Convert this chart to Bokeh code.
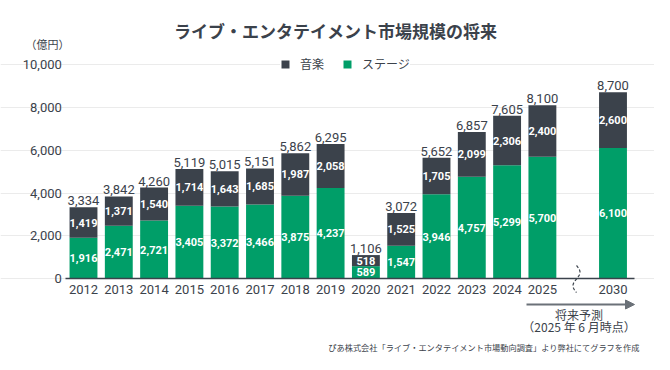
import math
from bokeh.plotting import figure
from bokeh.models import (ColumnDataSource, Range1d, FixedTicker, Legend, LegendItem, Label,
                          Arrow, NormalHead, NumeralTickFormatter, LinearAxis, Grid)
from bokeh.core.properties import value
from bokeh.embed import file_html
from bokeh.resources import INLINE

# ---------------- data ----------------
years = ["2012", "2013", "2014", "2015", "2016", "2017", "2018", "2019",
         "2020", "2021", "2022", "2023", "2024", "2025", "2030"]
stage = [1916, 2471, 2721, 3405, 3372, 3466, 3875, 4237, 589, 1547, 3946, 4757, 5299, 5700, 6100]
music = [1419, 1371, 1540, 1714, 1643, 1685, 1987, 2058, 518, 1525, 1705, 2099, 2306, 2400, 2600]
totals = [3334, 3842, 4260, 5119, 5015, 5151, 5862, 6295, 1106, 3072, 5652, 6857, 7605, 8100, 8700]
y_ticks = [0, 2000, 4000, 6000, 8000, 10000]
series_names = ["音楽", "ステージ"]
title_text = "ライブ・エンタテイメント市場規模の将来"
unit_text = "（億円）"
forecast_lines = ["将来予測", "（2025 年 6 月時点）"]
source_text = "ぴあ株式会社「ライブ・エンタテイメント市場動向調査」より弊社にてグラフを作成"

# axis slots: the years with an empty slot (axis break) before 2030
axis_slots = years[:-1] + [""] + years[-1:]
xpos = [axis_slots.index(y) for y in years]

DARK = "#3b424b"
GREEN = "#009e68"
TEXT = "#3b424b"
ARROW = "#6b7178"
NUM_FONT = "Roboto"
JP_FONT = "Noto Sans CJK JP"

W, H = 654, 354
# pixel layout of the plotting area (frame fills the whole figure)
X0_PX, STEP_PX = 83.0, 35.3          # centre of first slot, slot width
Y0_PX, PX_PER_UNIT = 278.3, 0.02143   # baseline, pixels per value unit


def X(px):
    return (px - X0_PX) / STEP_PX


def Y(py):
    return (Y0_PX - py) / PX_PER_UNIT


src = ColumnDataSource(dict(
    x=xpos, stage=stage, music=music, total=totals,
    stage_mid=[s / 2 for s in stage],
    music_mid=[s + m / 2 for s, m in zip(stage, music)],
    stage_lbl=[f"{v:,}" for v in stage],
    music_lbl=[f"{v:,}" for v in music],
    total_lbl=[f"{v:,}" for v in totals],
))

p = figure(width=W, height=H, x_range=Range1d(X(0), X(W)), y_range=Range1d(Y(H), Y(0)),
           output_backend="svg", toolbar_location=None, title=None,
           x_axis_type=None, y_axis_type=None,
           min_border_left=0, min_border_right=0, min_border_top=0, min_border_bottom=0)
p.outline_line_color = None
p.background_fill_color = "white"
p.border_fill_color = "white"

lo, hi = -0.5, len(axis_slots) - 0.4

# grid
p.add_layout(Grid(dimension=1, ticker=FixedTicker(ticks=y_ticks), bounds=(lo, hi),
                  grid_line_color="#ebebeb", grid_line_width=1))

rs = p.vbar_stack(["stage", "music"], x="x", width=0.79, fill_color=[GREEN, DARK],
                  line_color=None, source=src)

# value labels
for ycol, tcol in (("stage_mid", "stage_lbl"), ("music_mid", "music_lbl")):
    p.text(x="x", y=ycol, text=tcol, source=src, text_color="white",
           text_font=value(NUM_FONT), text_font_style="bold", text_font_size="11px",
           text_align="center", text_baseline="middle")
p.text(x="x", y="total", text="total_lbl", source=src, text_color=TEXT,
       text_font=value(NUM_FONT), text_font_size="13px",
       text_align="center", text_baseline="bottom", y_offset=-2)

# axes (fixed inside the full-size frame)
yaxis = LinearAxis(ticker=FixedTicker(ticks=y_ticks), formatter=NumeralTickFormatter(format="0,0"),
                   fixed_location=lo, axis_line_color=None, major_tick_line_color=None,
                   minor_tick_line_color=None, major_tick_in=0, major_tick_out=0,
                   minor_tick_in=0, minor_tick_out=0, major_label_text_font=NUM_FONT,
                   major_label_text_font_size="13px", major_label_text_color=TEXT,
                   major_label_standoff=4)
p.add_layout(yaxis, "left")

xaxis = LinearAxis(ticker=FixedTicker(ticks=xpos),
                   major_label_overrides={x: y for x, y in zip(xpos, years)},
                   fixed_location=0, bounds=(lo, hi), axis_line_color=TEXT, axis_line_width=1.5,
                   major_tick_line_color=None, minor_tick_line_color=None,
                   major_tick_in=0, major_tick_out=0, minor_tick_in=0, minor_tick_out=0,
                   major_label_text_font=NUM_FONT, major_label_text_font_size="13px",
                   major_label_text_color=TEXT, major_label_standoff=6)
p.add_layout(xaxis, "below")

# legend
legend = Legend(items=[LegendItem(label=series_names[0], renderers=[rs[1]]),
                       LegendItem(label=series_names[1], renderers=[rs[0]])],
                orientation="horizontal", location=(280, 282),
                background_fill_color="white", background_fill_alpha=1.0,
                border_line_color=None, padding=4, spacing=18, margin=0,
                glyph_width=10, glyph_height=10, label_standoff=10, label_height=12,
                label_text_font=JP_FONT, label_text_font_size="12px",
                label_text_color=TEXT)
p.add_layout(legend)

# title and unit
p.add_layout(Label(x=X(335), y=Y(30), text=title_text, text_font=JP_FONT,
                   text_font_style="bold", text_font_size="17px", text_color=TEXT,
                   text_align="center", text_baseline="middle"))
p.add_layout(Label(x=X(25), y=Y(43), text=unit_text, text_font=JP_FONT,
                   text_font_size="11px", text_color=TEXT,
                   text_align="left", text_baseline="middle"))

# forecast arrow + notes
p.add_layout(Arrow(x_start=X(526), y_start=Y(304), x_end=X(634), y_end=Y(304),
                   line_color=ARROW, line_width=2,
                   end=NormalHead(size=9, fill_color=ARROW, line_color=ARROW)))
p.add_layout(Label(x=X(578.5), y=Y(313.5), text=forecast_lines[0], text_font=JP_FONT,
                   text_font_size="12px", text_color=TEXT,
                   text_align="center", text_baseline="middle"))
p.add_layout(Label(x=X(578.5), y=Y(326), text=forecast_lines[1], text_font=JP_FONT,
                   text_font_size="12px", text_color=TEXT,
                   text_align="center", text_baseline="middle"))
p.add_layout(Label(x=X(639), y=Y(346), text=source_text, text_font=JP_FONT,
                   text_font_size="8.2px", text_color=TEXT,
                   text_align="right", text_baseline="middle"))

# axis-break wavy mark (decoration)
n = 40
wx = [X(576 + 3.5 * math.sin(2 * math.pi * i / n)) for i in range(n + 1)]
wy = [Y(265 + 27 * i / n) for i in range(n + 1)]
p.line(wx, wy, line_color=TEXT, line_width=1.2, line_dash="3 2")

open("out.html", "w").write(file_html(p, INLINE))
